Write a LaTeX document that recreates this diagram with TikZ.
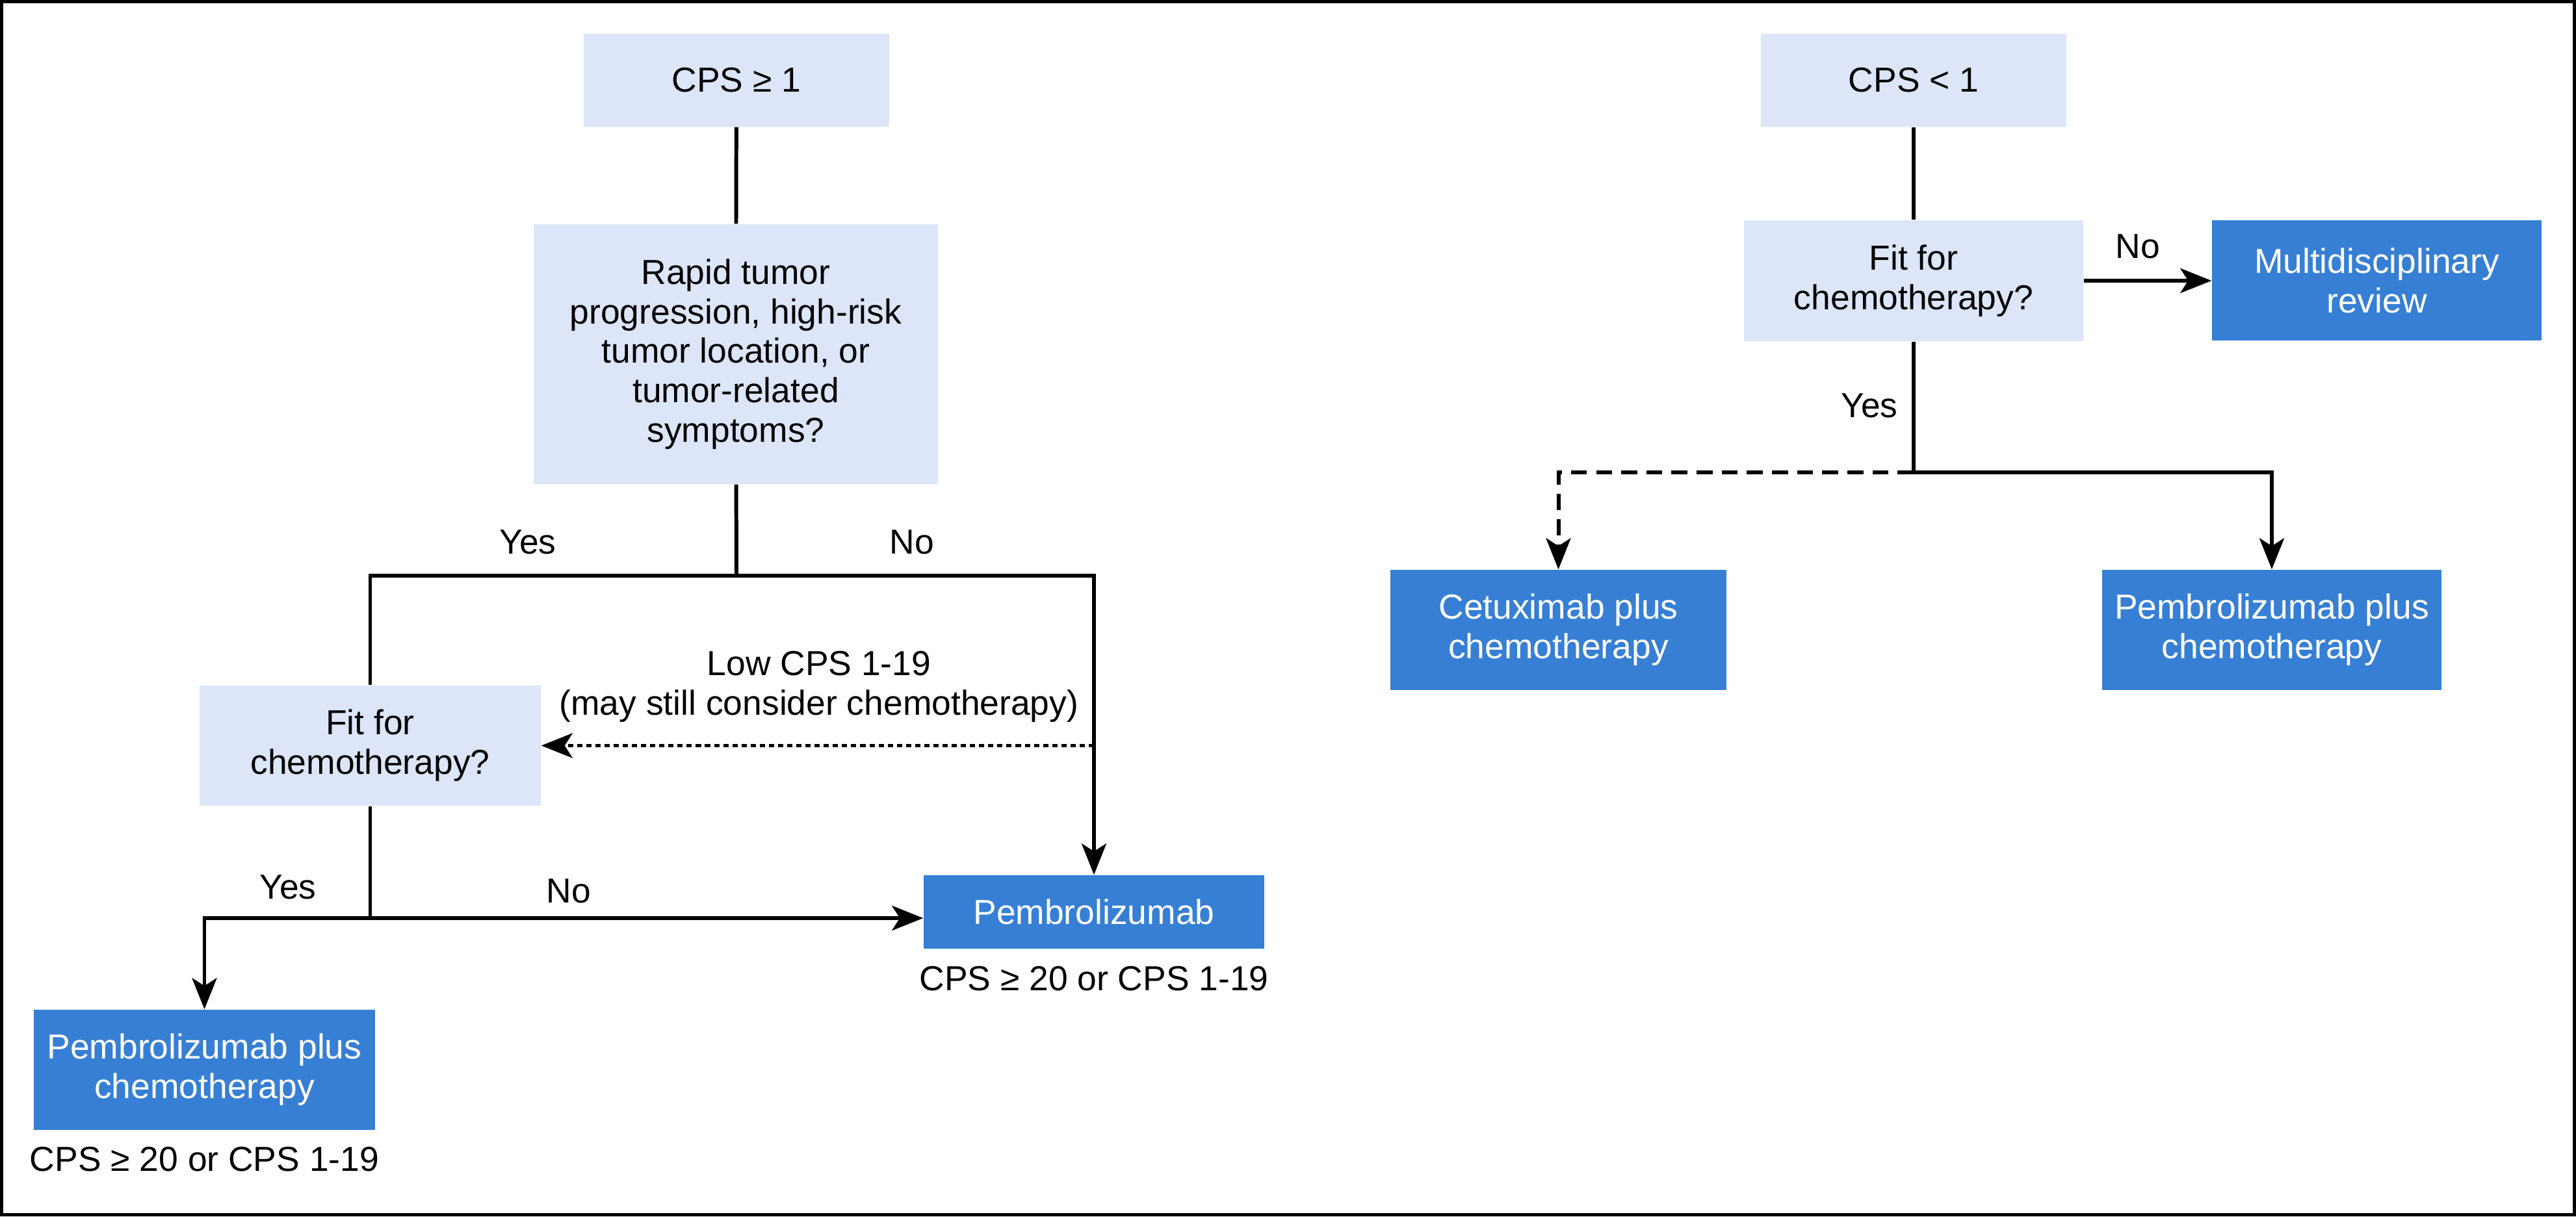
\documentclass[tikz,border=0pt]{standalone}
\usepackage{fontspec}
\setmainfont{Liberation Sans}
\usetikzlibrary{positioning, arrows.meta}

\definecolor{boxLight}{HTML}{DCE6F8}
\definecolor{boxDark}{HTML}{367FD4}

\begin{document}
\begin{tikzpicture}[
        font = \fontsize{15.2pt}{17.3pt}\selectfont,
        lightBox/.style = {rectangle, fill = boxLight, align = center, inner sep = 0pt},
        darkBox/.style = {rectangle, fill = boxDark, text = white, align = center, inner sep = 0pt},
        link/.style = {line width = 1.7pt},
        arrow/.style = {link, -{Stealth[length = 0.48cm, width = 0.38cm, inset = 0.12cm]}},
        dottedLink/.style = {dash pattern = on 2.3pt off 1.7pt},
        dashedLink/.style = {dash pattern = on 7pt off 4pt}
    ]
        \useasboundingbox (0, 0) rectangle (39.63, 18.72);
        \draw[line width = 1.42pt] (0.025, 0.025) rectangle (39.605, 18.695);

        % CPS >= 1
        \node[lightBox, minimum width = 4.70cm, minimum height = 1.43cm] (cpsHigh) at (11.33, 17.485) {CPS ≥ 1};
        \node[lightBox, minimum width = 6.22cm, minimum height = 4.00cm] (rapidNode) at (11.32, 13.27) {Rapid tumor\\progression, high-risk\\tumor location, or\\tumor-related\\symptoms?};
        \node[lightBox, minimum width = 5.25cm, minimum height = 1.85cm] (fitLeft) at (5.695, 7.245) {Fit for\\chemotherapy?};
        \node[darkBox, minimum width = 5.24cm, minimum height = 1.13cm] (pembro) at (16.83, 4.685) {Pembrolizumab};
        \node[darkBox, minimum width = 5.25cm, minimum height = 1.85cm] (pembroChemoLeft) at (3.145, 2.255) {Pembrolizumab plus\\chemotherapy};
        \node (pembroNote) [below = 0.14cm of pembro] {CPS ≥ 20 or CPS 1-19};
        \node (pembroChemoNote) [below = 0.13cm of pembroChemoLeft] {CPS ≥ 20 or CPS 1-19};

        \node (yesTop) at (8.12, 10.38) {Yes};
        \node (noTop) at (14.03, 10.38) {No};
        \node (yesLow) at (4.43, 5.07) {Yes};
        \node (noLow) at (8.75, 5.01) {No};
        \node[align = center] (lowCps) at (12.60, 8.15) {Low CPS 1-19\\(may still consider chemotherapy)};

        \coordinate (splitLeft) at (11.33, 9.86);
        \coordinate (splitLow) at (5.695, 4.59);

        \draw[link] (cpsHigh) -- (rapidNode);
        \draw[link] (rapidNode) -- (splitLeft);
        \draw[link] (splitLeft) -| (fitLeft.north);
        \draw[arrow] (splitLeft) -| (pembro.north);
        \draw[arrow, dottedLink] (pembro.north |- fitLeft.east) -- (fitLeft.east);
        \draw[link] (fitLeft) -- (splitLow);
        \draw[arrow] (splitLow) -| (pembroChemoLeft.north);
        \draw[arrow] (splitLow) -- (splitLow -| pembro.west);

        % CPS < 1
        \node[lightBox, minimum width = 4.70cm, minimum height = 1.43cm] (cpsLow) at (29.44, 17.485) {CPS < 1};
        \node[lightBox, minimum width = 5.22cm, minimum height = 1.86cm] (fitRight) at (29.44, 14.40) {Fit for\\chemotherapy?};
        \node[darkBox, minimum width = 5.07cm, minimum height = 1.85cm] (multiReview) at (36.565, 14.40) {Multidisciplinary\\review};
        \node[darkBox, minimum width = 5.17cm, minimum height = 1.85cm] (cetux) at (23.975, 9.025) {Cetuximab plus\\chemotherapy};
        \node[darkBox, minimum width = 5.22cm, minimum height = 1.85cm] (pembroChemoRight) at (34.95, 9.025) {Pembrolizumab plus\\chemotherapy};

        \node (noRight) at (32.89, 14.93) {No};
        \node (yesRight) at (28.76, 12.48) {Yes};

        \coordinate (splitRight) at (29.44, 11.45);

        \draw[link] (cpsLow) -- (fitRight);
        \draw[arrow] (fitRight) -- (multiReview);
        \draw[link] (fitRight) -- (splitRight);
        \draw[arrow, dashedLink] (splitRight) -| (cetux.north);
        \draw[arrow] (splitRight) -| (pembroChemoRight.north);
      \end{tikzpicture}
\end{document}
